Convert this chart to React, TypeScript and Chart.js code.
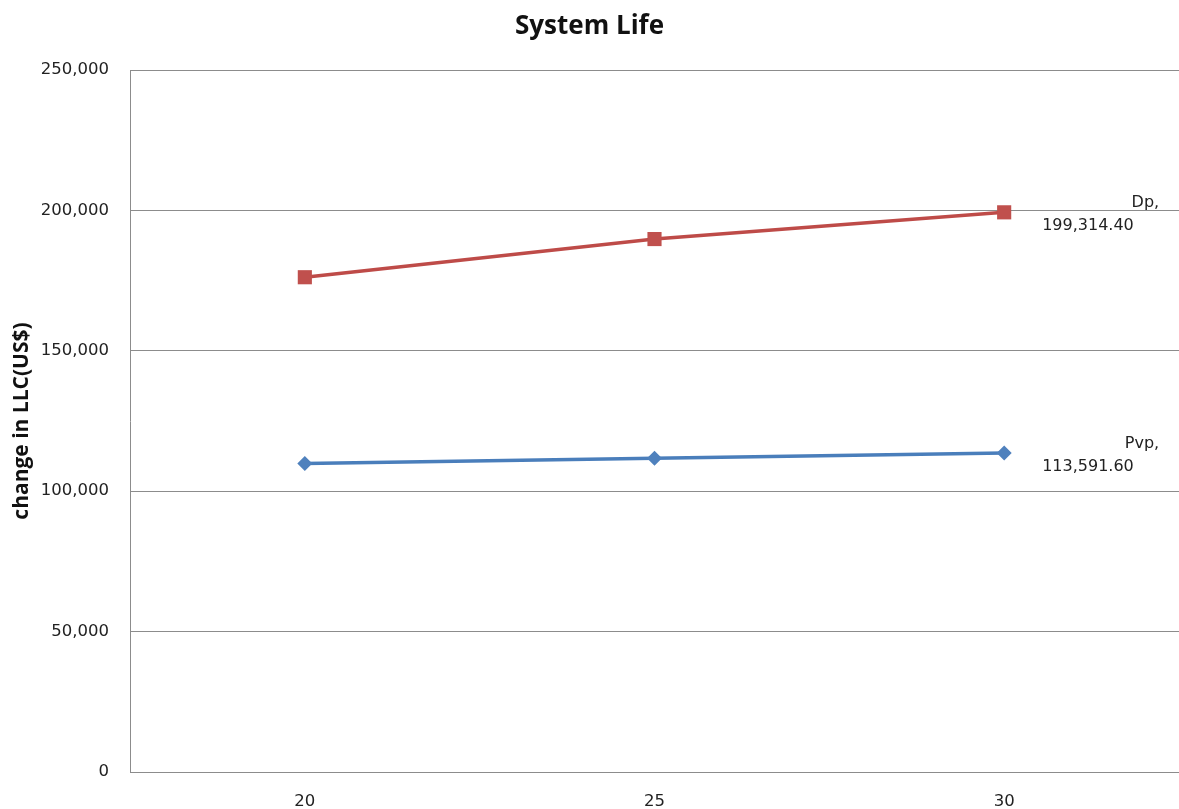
import React, { useEffect, useRef } from "react";
import { Chart, registerables } from "chart.js";

Chart.register(...registerables);

// System life (years) on the category axis
const years = ["20", "25", "30"];
// Change in life-cycle cost, US$
const dpValues = [176200, 189800, 199314.4];
const pvpValues = [109900, 111700, 113591.6];
const seriesNames = ["Dp", "Pvp"];
const yMin = 0;
const yMax = 250000;
const yStep = 50000;

const TICK_FONT = "'DejaVu Sans', Verdana, sans-serif";
const HEAD_FONT = "'Open Sans', 'Noto Sans', sans-serif";

const fmt = (v: number, digits = 0) =>
  v.toLocaleString("en-US", { minimumFractionDigits: digits, maximumFractionDigits: digits });

// Chart heading, centred across the canvas
const headingPlugin = {
  id: "heading",
  afterDraw(chart: Chart) {
    const ctx = chart.ctx;
    ctx.save();
    ctx.font = `bold 26px ${HEAD_FONT}`;
    ctx.fillStyle = "#111";
    ctx.textAlign = "center";
    ctx.textBaseline = "middle";
    ctx.fillText("System Life", chart.width / 2, 27);
    ctx.restore();
  },
};

// "Name," / value labels beside the last point of each series
const endLabelPlugin = {
  id: "endLabels",
  afterDatasetsDraw(chart: Chart) {
    const ctx = chart.ctx;
    ctx.save();
    ctx.font = `16px ${TICK_FONT}`;
    ctx.fillStyle = "#222";
    ctx.textBaseline = "middle";
    chart.data.datasets.forEach((ds, i) => {
      const meta = chart.getDatasetMeta(i);
      const last = meta.data.length - 1;
      const pt = meta.data[last];
      const value = ds.data[last] as number;
      ctx.textAlign = "right";
      ctx.fillText(`${ds.label},`, pt.x + 155, pt.y - 9);
      ctx.textAlign = "left";
      ctx.fillText(fmt(value, 2), pt.x + 38, pt.y + 14);
    });
    ctx.restore();
  },
};

export default function App() {
  const canvasRef = useRef<HTMLCanvasElement | null>(null);

  useEffect(() => {
    const canvas = canvasRef.current;
    if (!canvas) return;
    const chart = new Chart(canvas, {
      type: "line",
      data: {
        labels: years,
        datasets: [
          {
            label: seriesNames[0],
            data: dpValues,
            borderColor: "#BE4B48",
            backgroundColor: "#C0504D",
            borderWidth: 3.5,
            pointStyle: "rect",
            pointRadius: 10,
            pointBorderWidth: 0,
            pointBackgroundColor: "#C0504D",
            tension: 0,
          },
          {
            label: seriesNames[1],
            data: pvpValues,
            borderColor: "#4A7EBB",
            backgroundColor: "#4F81BD",
            borderWidth: 3.5,
            pointStyle: "rectRot",
            pointRadius: 7.5,
            pointBorderWidth: 0,
            pointBackgroundColor: "#4F81BD",
            tension: 0,
          },
        ],
      },
      options: {
        responsive: false,
        animation: false,
        devicePixelRatio: 1,
        layout: { autoPadding: false, padding: { top: 70, left: 0, right: 0, bottom: 0 } },
        plugins: {
          legend: { display: false },
          title: { display: false },
          tooltip: { enabled: false },
        },
        scales: {
          x: {
            type: "category",
            offset: true,
            grid: { display: false, drawTicks: false },
            border: { display: true, color: "#8c8c8c", width: 1 },
            ticks: {
              color: "#222",
              font: { family: TICK_FONT, size: 16.5 },
              padding: 20,
              maxRotation: 0,
            },
            afterFit(scale: any) {
              scale.height = 37;
            },
          },
          y: {
            min: yMin,
            max: yMax,
            grid: { color: "#8c8c8c", lineWidth: 1, drawTicks: false },
            border: { display: true, color: "#8c8c8c", width: 1 },
            ticks: {
              stepSize: yStep,
              color: "#222",
              font: { family: TICK_FONT, size: 16.5 },
              padding: 21,
              callback: (v: any) => fmt(Number(v)),
            },
            title: {
              display: true,
              text: "change in LLC(US$)",
              color: "#111",
              font: { family: HEAD_FONT, size: 21, weight: "bold" },
              padding: { top: 9, bottom: 0 },
            },
            afterFit(scale: any) {
              scale.width = 130;
            },
          },
        },
      },
      plugins: [headingPlugin, endLabelPlugin],
    });
    return () => chart.destroy();
  }, []);

  return (
    <div style={{ position: "absolute", left: 0, top: 0, width: 1179, height: 809, background: "#fff" }}>
      <canvas ref={canvasRef} width={1179} height={809} style={{ display: "block" }} />
    </div>
  );
}
